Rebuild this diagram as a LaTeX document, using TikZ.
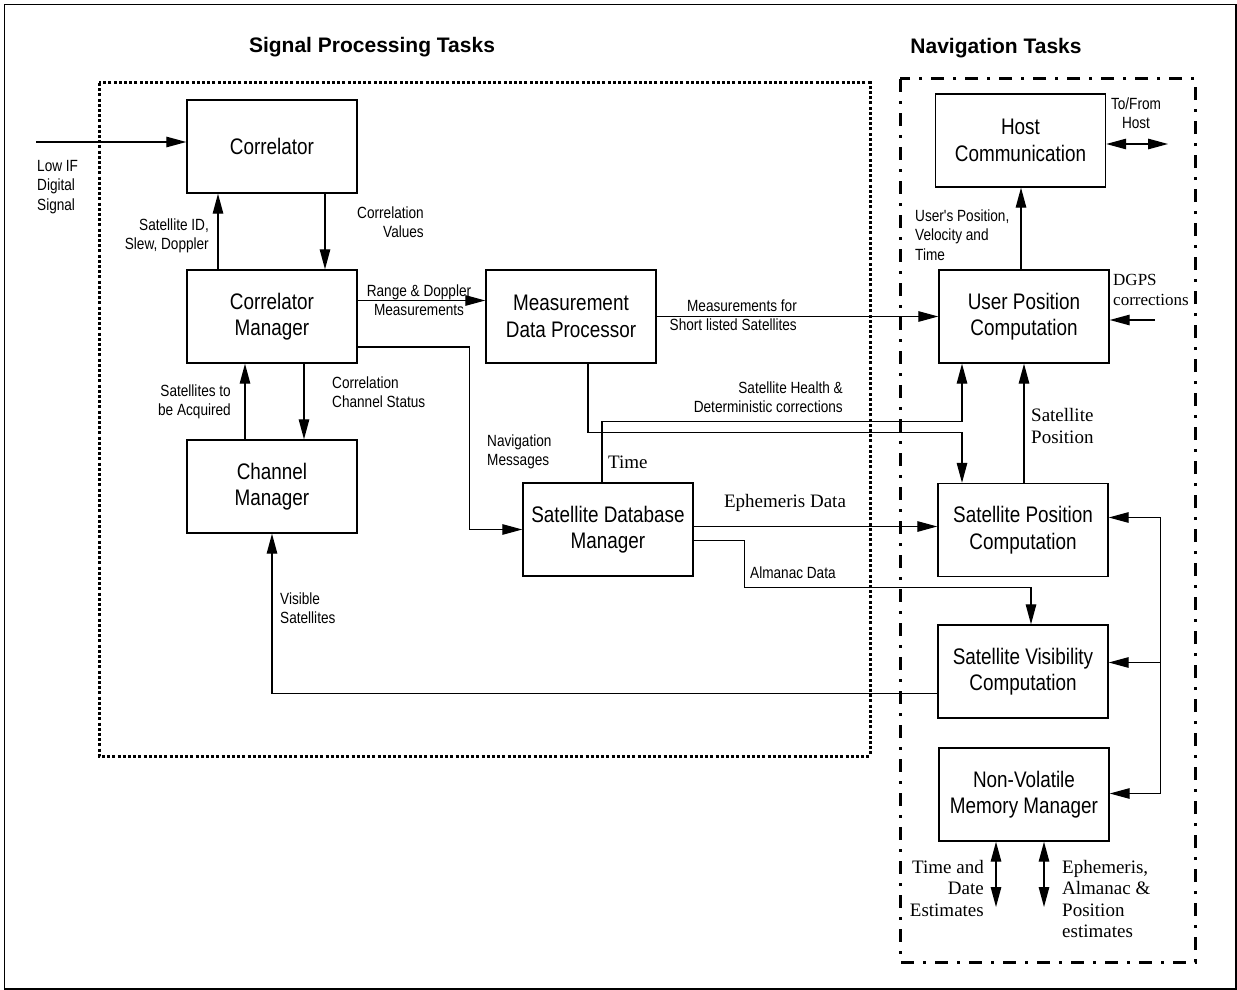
\documentclass[tikz,border=0pt]{standalone}
\usepackage{fontspec}
\setmainfont{Liberation Sans}
\newfontfamily\narrowsf{Liberation Sans}[FakeStretch=0.84]
\newfontfamily\timesrm{Liberation Serif}
\usetikzlibrary{shapes, arrows.meta}

\begin{document}
\begin{tikzpicture}
	  [x=1pt, y=-1pt, node distance = 170pt, auto,
	  %
	  block/.style={rectangle, draw, line width=1.4pt, align=center, minimum width=170pt, minimum height=93pt, font=\narrowsf\fontsize{22.5}{26.5}\selectfont},
	  %
	  lbl/.style={inner sep=0pt, font=\narrowsf\fontsize{16.2}{19.5}\selectfont},
	  %
	  serlbl/.style={inner sep=0pt, font=\timesrm\fontsize{19}{21.5}\selectfont},
	  %
	  tasktitle/.style={inner sep=0pt, font=\bfseries\fontsize{21}{25}\selectfont},
	  %
	  spbox/.style={draw, line width=3pt, dash pattern=on 3pt off 2.2pt},
	  %
	  navbox/.style={draw, line width=3pt, dash pattern=on 13pt off 9pt on 3pt off 9pt},
	  %
	  customline/.style={draw, line width=1.3pt, arrows={-Triangle[length=20pt, width=10.5pt]}},
	  %
	  customrev/.style={draw, line width=1.3pt, arrows={Triangle[length=20pt, width=10.5pt]-}},
	  %
	  custombi/.style={draw, line width=1.3pt, arrows={Triangle[length=20pt, width=10.5pt]-Triangle[length=20pt, width=10.5pt]}}]

	    \useasboundingbox (0,0) rectangle (1237,990);
	    \draw [line width=1.5pt] (4.5,4.5) rectangle (1236,989);
	    \draw [spbox] (99,83) rectangle (870,756);
	    \draw [navbox] (900,79) rectangle (1195,962);
	    \node [tasktitle] (sptitle) at (372,47) {Signal Processing Tasks};
	    \node [tasktitle] (navtitle) at (996,48) {Navigation Tasks};

	    \node [block] (corr) at (272,146.5) {Correlator};
	    \node [block, below of=corr] (corrmgr) {Correlator\\Manager};
	    \node [block, below of=corrmgr] (chanmgr) {Channel\\Manager};
	    \node [block, right of=corrmgr, xshift=129pt] (mdp) {Measurement\\Data Processor};
	    \node [block, below of=mdp, xshift=37pt, yshift=-43pt] (sdbm) {Satellite Database\\Manager};
	    \node [block, right of=mdp, xshift=283pt] (upc) {User Position\\Computation};
	    \node [block, above of=upc, xshift=-3.5pt, yshift=6pt] (host) {Host\\Communication};
	    \node [block, below of=upc, xshift=-1pt, yshift=-43.5pt] (satpos) {Satellite Position\\Computation};
	    \node [block, below of=satpos, yshift=28.5pt] (satvis) {Satellite Visibility\\Computation};
	    \node [block, below of=satvis, xshift=1pt, yshift=47pt] (nvm) {Non-Volatile\\Memory Manager};

	    \coordinate (ifin) at (36,142);
	    \coordinate (hostio) at (1168,144);
	    \coordinate (dgpsin) at (1155,320);
	    \coordinate (tdout) at (996,907);
	    \coordinate (ephout) at (1044,907);

	    \draw [customline] (ifin) -- (ifin -| corr.west);
	    \draw [customline] ([xshift=53pt]corr.south) -- ([xshift=53pt]corrmgr.north);
	    \draw [customline] ([xshift=-54pt]corrmgr.north) -- ([xshift=-54pt]corr.south);
	    \draw [customline] ([xshift=32pt]corrmgr.south) -- ([xshift=32pt]chanmgr.north);
	    \draw [customline] ([xshift=-27pt]chanmgr.north) -- ([xshift=-27pt]corrmgr.south);
	    \draw [customline] ([yshift=16pt]corrmgr.east) -- ([yshift=16pt]mdp.west);
	    \draw [customline] ([yshift=-30.5pt]corrmgr.east) -- ++(112pt,0) |- (sdbm.west);
	    \draw [customline] (mdp.east) -- (upc.west);
	    \draw [customline] ([xshift=17pt]mdp.south) -- ++(0,-69pt) -| ([xshift=-61pt]satpos.north);
	    \draw [customline] ([xshift=-6pt]sdbm.north) -- ++(0,61pt) -| ([xshift=-62pt]upc.south);
	    \draw [customline] ([yshift=3pt]sdbm.east) -- ([yshift=3.5pt]satpos.west);
	    \draw [customline] ([yshift=-11pt]sdbm.east) -- ++(51pt,0) -- ++(0,-47pt) -| ([xshift=8pt]satvis.north);
	    \draw [customline] ([yshift=-22pt]satvis.west) -| (chanmgr.south);
	    \draw [customline] (upc.south |- satpos.north) -- (upc.south);
	    \draw [customline] ([xshift=-3pt]upc.north) -- ([xshift=0.5pt]host.south);
	    \draw [custombi] (host.east |- hostio) -- (hostio);
	    \draw [customline] (dgpsin) -- (dgpsin -| upc.east);
	    \draw [custombi] ([yshift=12.5pt]satpos.east) -- ++(52pt,0) |- ([yshift=1pt]nvm.east);
	    \draw [customrev] ([yshift=9pt]satvis.east) -- ++(52pt,0);
	    \draw [custombi] (tdout |- nvm.south) -- (tdout);
	    \draw [custombi] (ephout |- nvm.south) -- (ephout);

	    \node [lbl, anchor=west, align=left] (iflbl) at (37,187) {Low IF\\Digital\\Signal};
	    \node [lbl, anchor=east, align=right] (slewlbl) at (209,236) {Satellite ID,\\Slew, Doppler};
	    \node [lbl, anchor=east, align=right] (corrvlbl) at (424,222) {Correlation\\Values};
	    \node [lbl, anchor=east, align=right] (acqlbl) at (231,402) {Satellites to\\be Acquired};
	    \node [lbl, anchor=west, align=left] (chstlbl) at (332,392) {Correlation\\Channel Status};
	    \node [lbl, align=center] (rangelbl) at (419,300) {Range \& Doppler\\Measurements};
	    \node [lbl, anchor=west, align=left] (navmsglbl) at (487,452) {Navigation\\Messages};
	    \node [lbl, anchor=east, align=right] (shortlbl) at (797,315) {Measurements for\\Short listed Satellites};
	    \node [lbl, anchor=east, align=right] (healthlbl) at (843,397) {Satellite Health \&\\Deterministic corrections};
	    \node [serlbl, anchor=west] (timelbl) at (608,462) {Time};
	    \node [serlbl] (ephlbl) at (785,503) {Ephemeris Data};
	    \node [lbl, anchor=west] (almlbl) at (750,573) {Almanac Data};
	    \node [lbl, anchor=west, align=left] (vislbl) at (280,608) {Visible\\Satellites};
	    \node [lbl, align=center] (hostlbl) at (1136,113) {To/From\\Host};
	    \node [lbl, anchor=west, align=left] (pvtlbl) at (915,235) {User's Position,\\Velocity and\\Time};
	    \node [serlbl, anchor=west, align=left, font=\timesrm\fontsize{17}{20}\selectfont] (dgpslbl) at (1113,290) {DGPS\\corrections};
	    \node [serlbl, anchor=west, align=left] (satposlbl) at (1031,426) {Satellite\\Position};
	    \node [serlbl, anchor=east, align=right] (tdlbl) at (984,888) {Time and\\Date\\Estimates};
	    \node [serlbl, anchor=west, align=left] (ephestlbl) at (1062,899) {Ephemeris,\\Almanac \&\\Position\\estimates};
	  \end{tikzpicture}
\end{document}
